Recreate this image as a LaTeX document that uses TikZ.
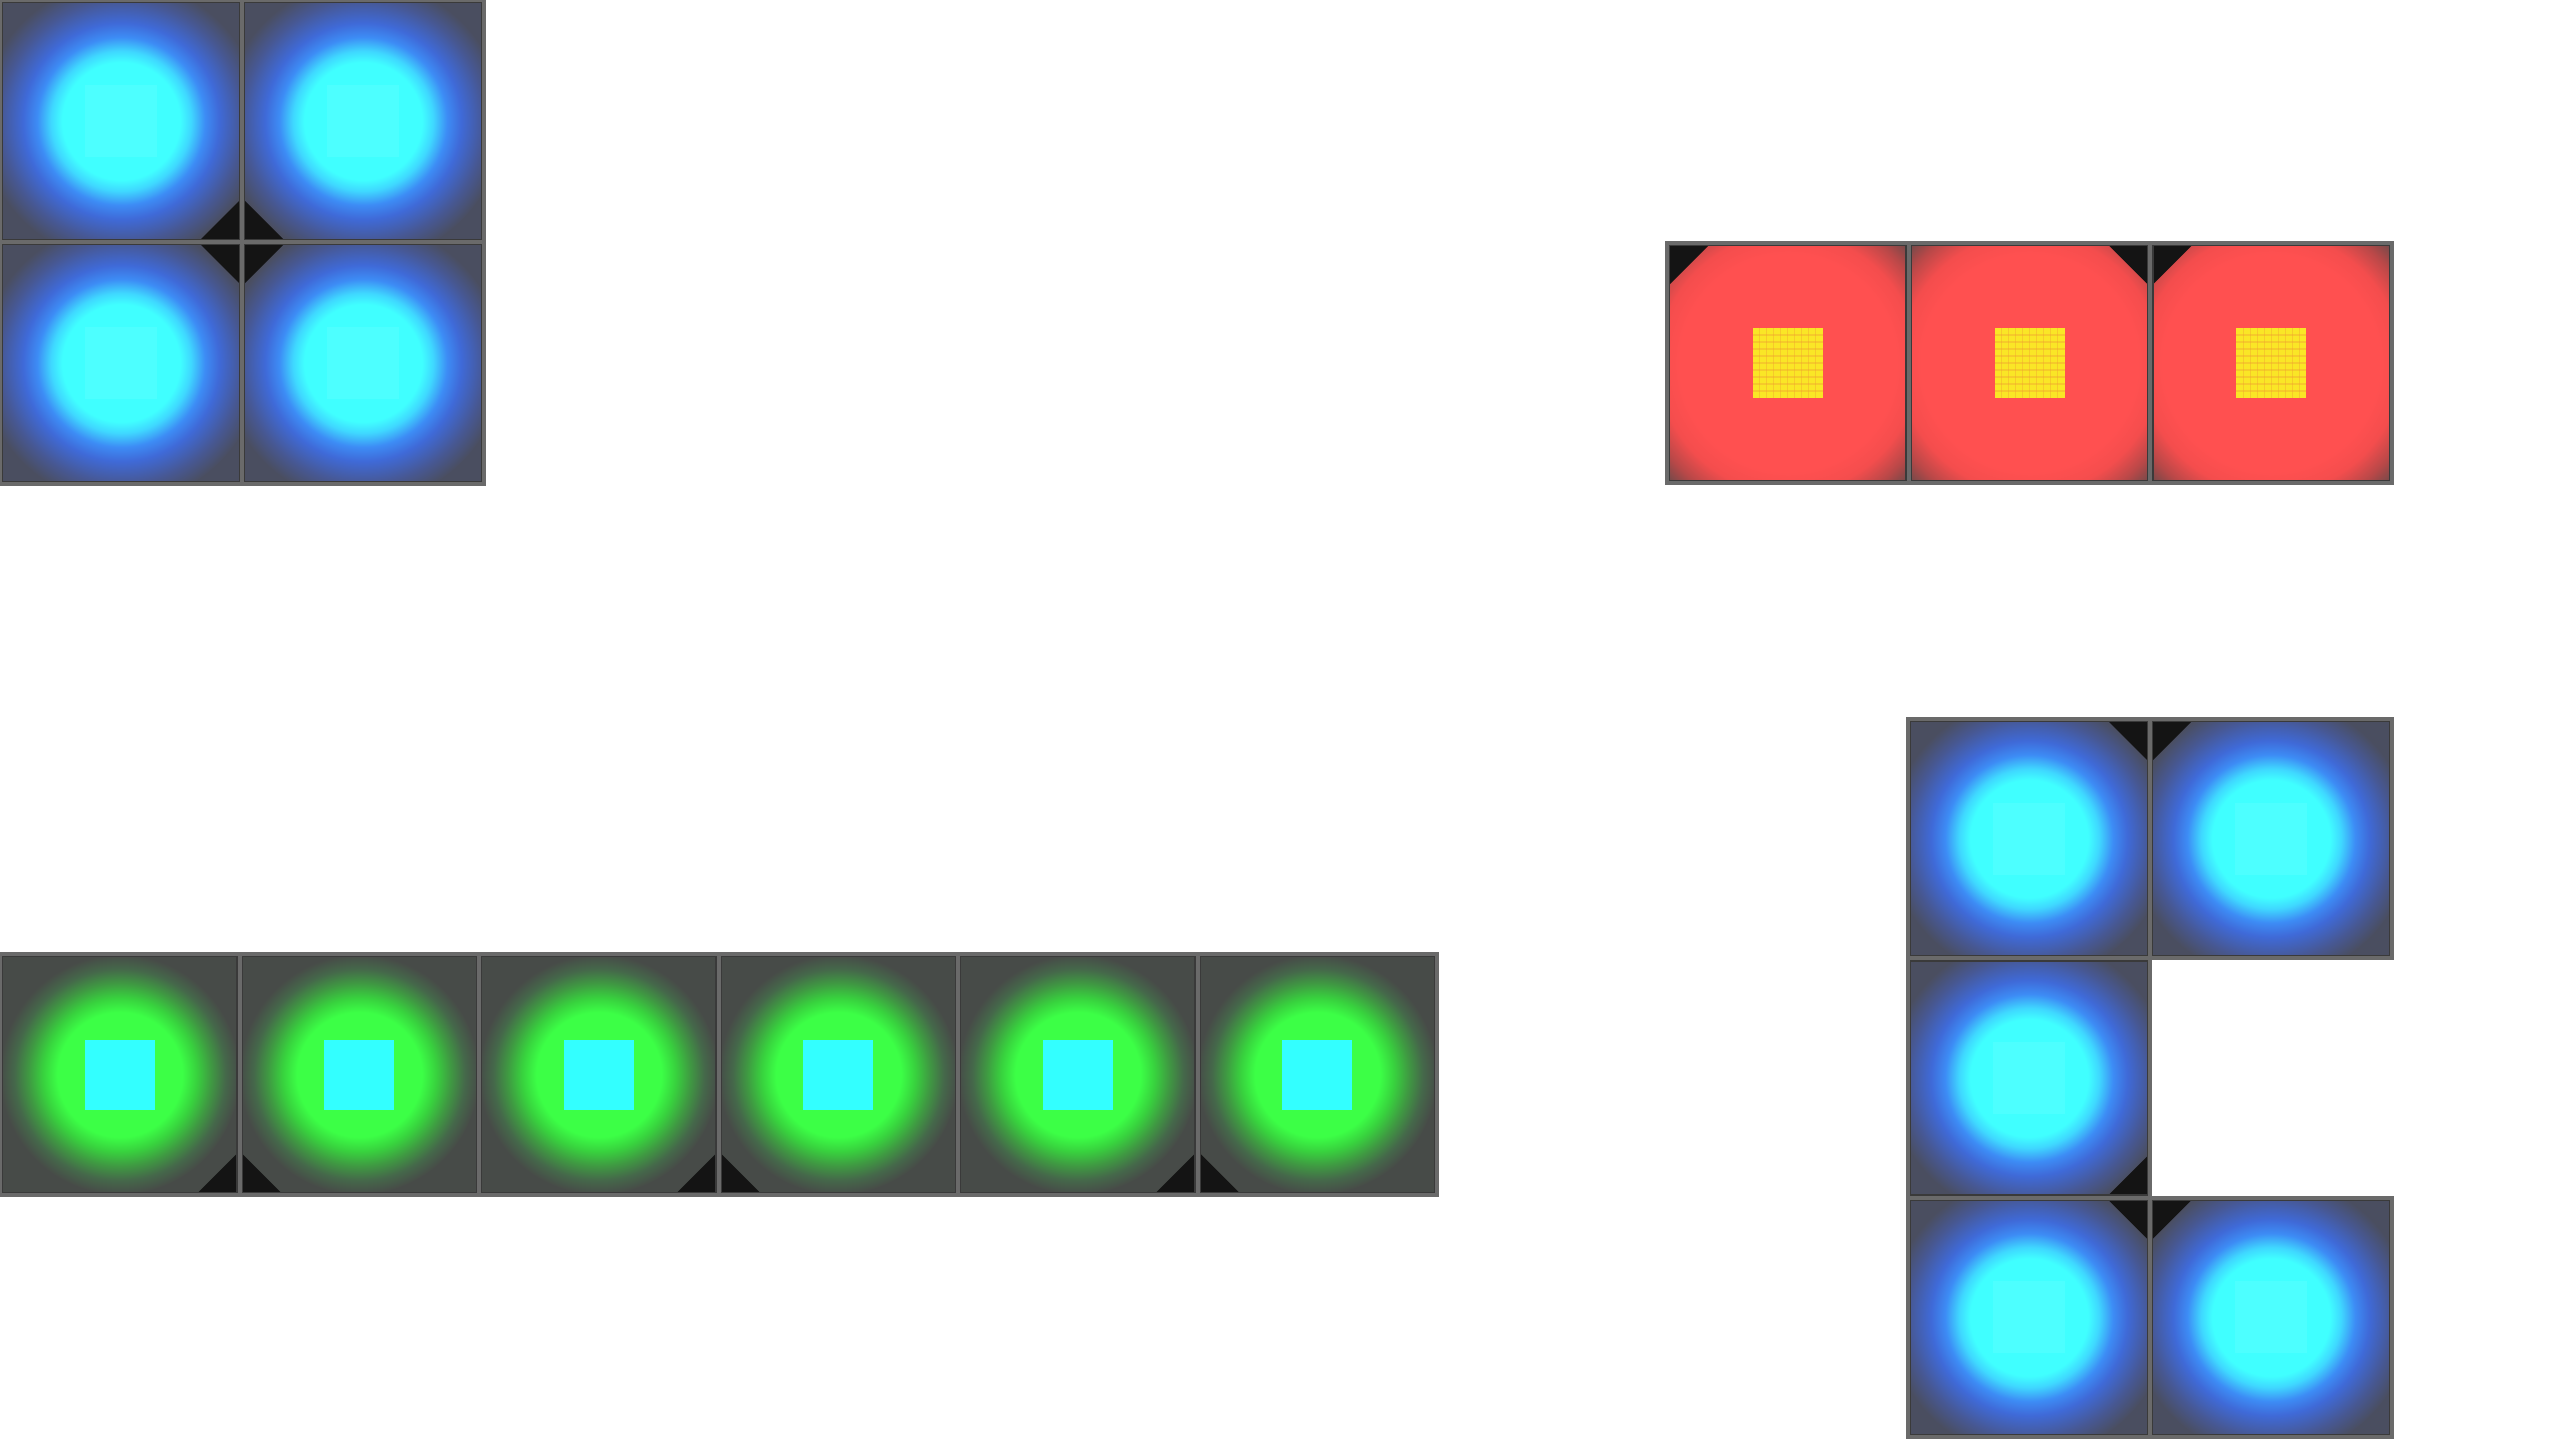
\documentclass[tikz,border=0pt]{standalone}
\definecolor{bgB}{HTML}{4A4E60}
\definecolor{cyanC}{HTML}{40FFFF}
\definecolor{cyanL}{HTML}{66FFFF}
\definecolor{cyanB}{HTML}{3FD8FF}
\definecolor{blueM}{HTML}{3D8CF5}
\definecolor{blueD}{HTML}{3F6AD8}
\definecolor{blueF}{HTML}{475894}
\definecolor{bgG}{HTML}{474B48}
\definecolor{greenC}{HTML}{3CFF46}
\definecolor{greenM}{HTML}{38D23E}
\definecolor{greenD}{HTML}{3F9A42}
\definecolor{greenF}{HTML}{45684A}
\definecolor{cyanSq}{HTML}{33FFFF}
\definecolor{bgR}{HTML}{5C4A4A}
\definecolor{redC}{HTML}{FF5050}
\definecolor{redM}{HTML}{F44D4D}
\definecolor{redD}{HTML}{B84848}
\definecolor{redF}{HTML}{704949}
\definecolor{yellowC}{HTML}{FAE626}
\definecolor{orangeG}{HTML}{F0A030}
\definecolor{notchC}{HTML}{141414}
\definecolor{edgeO}{HTML}{6A6A6A}
\definecolor{edgeI}{HTML}{3A3A3A}
\pgfdeclareradialshading{glowB}{\pgfpoint{0bp}{0bp}}{color(0bp)=(cyanC); color(10.5bp)=(cyanC); color(12.5bp)=(cyanB); color(15bp)=(blueM); color(17.5bp)=(blueD); color(21.5bp)=(blueF); color(25bp)=(bgB); color(50bp)=(bgB)}
\pgfdeclareradialshading{glowG}{\pgfpoint{0bp}{0bp}}{color(0bp)=(greenC); color(13bp)=(greenC); color(16bp)=(greenM); color(19bp)=(greenD); color(22bp)=(greenF); color(25bp)=(bgG); color(50bp)=(bgG)}
\pgfdeclareradialshading{glowR}{\pgfpoint{0bp}{0bp}}{color(0bp)=(redC); color(15.5bp)=(redC); color(18.5bp)=(redM); color(21.5bp)=(redD); color(24bp)=(redF); color(25bp)=(bgR); color(50bp)=(bgR)}
\tikzset{
  notchfill/.style={fill=notchC},
  outeredge/.style={draw=edgeO, line width=4},
  inneredge/.style={draw=edgeI, line width=1.2},
  gridline/.style={draw=orangeG, opacity=.4, line width=1.2},
}
\newcommand\BlueTile[4]{%
  \fill[bgB] (#1,#2) rectangle ++(#3,#4);
  \begin{scope}
    \clip (#1,#2) rectangle ++(#3,#4);
    \shade[shading=glowB] ({#1+#3/2},{#2+#4/2}) circle[radius=140];
  \end{scope}
  \fill[cyanL,opacity=.35] ({#1+#3/2-36},{#2+#4/2-36}) rectangle ++(72,72);
}
\newcommand\GreenTile[4]{%
  \fill[bgG] (#1,#2) rectangle ++(#3,#4);
  \begin{scope}
    \clip (#1,#2) rectangle ++(#3,#4);
    \shade[shading=glowG] ({#1+#3/2},{#2+#4/2}) circle[radius=120];
  \end{scope}
  \fill[cyanSq] ({#1+#3/2-35},{#2+#4/2-35}) rectangle ++(70,70);
}
\newcommand\RedTile[4]{%
  \fill[bgR] (#1,#2) rectangle ++(#3,#4);
  \begin{scope}
    \clip (#1,#2) rectangle ++(#3,#4);
    \shade[shading=glowR] ({#1+#3/2},{#2+#4/2}) circle[radius=175];
  \end{scope}
  \fill[yellowC] ({#1+#3/2-35},{#2+#4/2-35}) rectangle ++(70,70);
  \foreach \k in {1,...,9}{%
    \draw[gridline] ({#1+#3/2-35+7*\k},{#2+#4/2-35}) -- ++(0,70);
    \draw[gridline] ({#1+#3/2-35},{#2+#4/2-35+7*\k}) -- ++(70,0);
  }
}
\newcommand\Notch[4]{%
  \fill[notchfill] (#1,#2) -- ({#1+#3},#2) -- (#1,{#2+#4}) -- cycle;
}
\newcommand\TileEdge[4]{%
  \draw[outeredge] (#1,#2) rectangle ++(#3,#4);
  \draw[inneredge] ({#1+2.6},{#2+2.6}) rectangle ({#1+#3-2.6},{#2+#4-2.6});
}
\begin{document}
\begin{tikzpicture}[x=1pt,y=-1pt]
\useasboundingbox[fill=white] (0,0) rectangle (2560,1439);
% ---------- top-left blue 2x2 ----------
\BlueTile{0}{0}{242}{242}
\BlueTile{242}{0}{242}{242}
\BlueTile{0}{242}{242}{242}
\BlueTile{242}{242}{242}{242}
\Notch{242}{242}{-44}{-44}
\Notch{242}{242}{44}{-44}
\Notch{242}{242}{-44}{44}
\Notch{242}{242}{44}{44}
\TileEdge{0}{0}{242}{242}
\TileEdge{242}{0}{242}{242}
\TileEdge{0}{242}{242}{242}
\TileEdge{242}{242}{242}{242}
% ---------- red row of three ----------
\RedTile{1667}{243}{241.67}{240}
\RedTile{1908.67}{243}{241.67}{240}
\RedTile{2150.33}{243}{241.67}{240}
\Notch{1667}{243}{44}{44}
\Notch{2150.33}{243}{-44}{44}
\Notch{2150.33}{243}{44}{44}
\TileEdge{1667}{243}{241.67}{240}
\TileEdge{1908.67}{243}{241.67}{240}
\TileEdge{2150.33}{243}{241.67}{240}
% ---------- green row of six ----------
\GreenTile{0}{954}{239.5}{241}
\GreenTile{239.5}{954}{239.5}{241}
\GreenTile{479}{954}{239.5}{241}
\GreenTile{718.5}{954}{239.5}{241}
\GreenTile{958}{954}{239.5}{241}
\GreenTile{1197.5}{954}{239.5}{241}
\Notch{239.5}{1195}{-44}{-44}
\Notch{239.5}{1195}{44}{-44}
\Notch{718.5}{1195}{-44}{-44}
\Notch{718.5}{1195}{44}{-44}
\Notch{1197.5}{1195}{-44}{-44}
\Notch{1197.5}{1195}{44}{-44}
\TileEdge{0}{954}{239.5}{241}
\TileEdge{239.5}{954}{239.5}{241}
\TileEdge{479}{954}{239.5}{241}
\TileEdge{718.5}{954}{239.5}{241}
\TileEdge{958}{954}{239.5}{241}
\TileEdge{1197.5}{954}{239.5}{241}
% ---------- right blue C-shape ----------
\BlueTile{1908}{719}{242}{239.3}
\BlueTile{2150}{719}{242}{239.3}
\BlueTile{1908}{958.3}{242}{239.3}
\BlueTile{1908}{1197.6}{242}{239.3}
\BlueTile{2150}{1197.6}{242}{239.3}
\Notch{2150}{719}{-44}{44}
\Notch{2150}{719}{44}{44}
\Notch{2150}{1197.6}{-44}{-44}
\Notch{2150}{1197.6}{-44}{44}
\Notch{2150}{1197.6}{44}{44}
\TileEdge{1908}{719}{242}{239.3}
\TileEdge{2150}{719}{242}{239.3}
\TileEdge{1908}{958.3}{242}{239.3}
\TileEdge{1908}{1197.6}{242}{239.3}
\TileEdge{2150}{1197.6}{242}{239.3}
\end{tikzpicture}
\end{document}
